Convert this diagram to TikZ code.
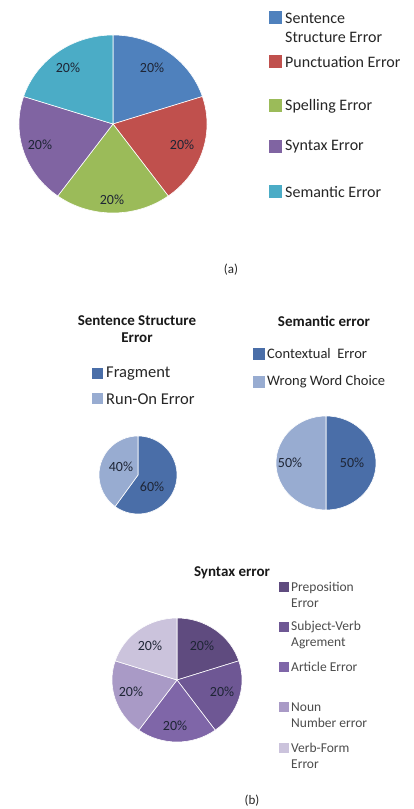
\documentclass[tikz,border=0pt]{standalone}
\usepackage{fontspec}
\setmainfont{Carlito}
\definecolor{cBlue}{HTML}{4F81BD}
\definecolor{cRed}{HTML}{C0504D}
\definecolor{cGreen}{HTML}{9BBB59}
\definecolor{cPurple}{HTML}{8064A2}
\definecolor{cCyan}{HTML}{4BACC6}
\definecolor{cFrag}{HTML}{4A6EA8}
\definecolor{cRun}{HTML}{98ACD1}
\definecolor{sA}{HTML}{5F4B7F}
\definecolor{sB}{HTML}{6E5794}
\definecolor{sC}{HTML}{7F66A8}
\definecolor{sD}{HTML}{A99AC6}
\definecolor{sE}{HTML}{CBC3DC}
\definecolor{labtext}{HTML}{1E2535}
\newcommand\myslice[7]{%
  \fill[#7, draw=white, line width=0.6pt] (#1,#2) -- ++(#5:#3 and #4)
    arc[start angle=#5, end angle=#6, x radius=#3, y radius=#4] -- cycle;}
\begin{document}
\begin{tikzpicture}[x=1pt,y=1pt,
  pct/.style={font=\fontsize{14}{14}\selectfont, text=labtext, inner sep=0pt},
  leg/.style={anchor=west, align=left, inner sep=0pt, text=black!85},
  sq/.style={minimum size=#1, inner sep=0pt, draw=none},
  ttl/.style={font=\bfseries\fontsize{15}{17}\selectfont, align=center, inner sep=0pt, text=black!90},
  captxt/.style={font=\fontsize{13}{13}\selectfont, inner sep=0pt, text=black!85}]
\path[use as bounding box, fill=white] (0,0) rectangle (414,809);

% ---------- (a) ----------
\myslice{113}{685}{94}{89}{18}{90}{cBlue}
\myslice{113}{685}{94}{89}{-54}{18}{cRed}
\myslice{113}{685}{94}{89}{-126}{-54}{cGreen}
\myslice{113}{685}{94}{89}{162}{234}{cPurple}
\myslice{113}{685}{94}{89}{90}{162}{cCyan}
\node[pct] (pa1) at (152,741) {20\%};
\node[pct] (pa2) at (182,664) {20\%};
\node[pct] (pa3) at (112,609) {20\%};
\node[pct] (pa4) at (40,664) {20\%};
\node[pct] (pa5) at (68,741) {20\%};

\node[sq=13pt, fill=cBlue] (qa1) at (275.5,791) {};
\node[sq=13pt, fill=cRed] (qa2) at (275.5,747) {};
\node[sq=13pt, fill=cGreen] (qa3) at (275.5,703) {};
\node[sq=13pt, fill=cPurple] (qa4) at (275.5,662) {};
\node[sq=13pt, fill=cCyan] (qa5) at (275.5,617) {};
\begin{scope}[every node/.append style={font=\fontsize{16}{19}\selectfont}]
\node[leg] (la1) at (285,781.5) {Sentence\\Structure Error};
\node[leg] (la2) at (285,747) {Punctuation Error};
\node[leg] (la3) at (285,703) {Spelling Error};
\node[leg] (la4) at (285,662) {Syntax Error};
\node[leg] (la5) at (285,617) {Semantic Error};
\end{scope}
\node[captxt] (capa) at (231,539) {(a)};

% ---------- (b) sentence structure ----------
\node[ttl] (t1) at (137,479.5) {Sentence Structure\\Error};
\node[sq=11pt, fill=cFrag] (qb1) at (97.5,435) {};
\node[sq=11pt, fill=cRun] (qb2) at (97.5,410) {};
\node[leg, font=\fontsize{16.5}{19}\selectfont] (lb1) at (106,435) {Fragment};
\node[leg, font=\fontsize{16.5}{19}\selectfont] (lb2) at (106,410) {Run-On Error};
\myslice{138}{334}{39}{39}{-126}{90}{cFrag}
\myslice{138}{334}{39}{39}{90}{234}{cRun}
\node[pct] (pb1) at (121,342) {40\%};
\node[pct] (pb2) at (152,322) {60\%};

% ---------- (b) semantic ----------
\node[ttl] (t2) at (324,488) {Semantic error};
\node[sq=12pt, fill=cFrag] (qc1) at (259,455) {};
\node[sq=12pt, fill=cRun] (qc2) at (259,427) {};
\node[leg, font=\fontsize{14.5}{17}\selectfont] (lc1) at (267,455) {Contextual\ \ Error};
\node[leg, font=\fontsize{14.5}{17}\selectfont] (lc2) at (267,427) {Wrong Word Choice};
\myslice{326}{346}{50}{47}{-90}{90}{cFrag}
\myslice{326}{346}{50}{47}{90}{270}{cRun}
\node[pct] (pc1) at (290,346) {50\%};
\node[pct] (pc2) at (352,346) {50\%};

% ---------- (b) syntax ----------
\node[ttl] (t3) at (232,236) {Syntax error};
\myslice{177}{129}{65}{62}{18}{90}{sA}
\myslice{177}{129}{65}{62}{-54}{18}{sB}
\myslice{177}{129}{65}{62}{-126}{-54}{sC}
\myslice{177}{129}{65}{62}{162}{234}{sD}
\myslice{177}{129}{65}{62}{90}{162}{sE}
\node[pct] (pd1) at (202,163) {20\%};
\node[pct] (pd2) at (222,117) {20\%};
\node[pct] (pd3) at (175,83) {20\%};
\node[pct] (pd4) at (131,117) {20\%};
\node[pct] (pd5) at (150,163) {20\%};

\node[sq=9.5pt, fill=sA] (qd1) at (284,222) {};
\node[sq=9.5pt, fill=sB] (qd2) at (284,182) {};
\node[sq=9.5pt, fill=sC] (qd3) at (284,142) {};
\node[sq=9.5pt, fill=sD] (qd4) at (284,102) {};
\node[sq=9.5pt, fill=sE] (qd5) at (284,61) {};
\begin{scope}[every node/.append style={font=\fontsize{13.5}{16}\selectfont}]
\node[leg, text=black!70] (ld1) at (291,214) {Preposition\\Error};
\node[leg, text=black!70] (ld2) at (291,174) {Subject-Verb\\Agrement};
\node[leg, text=black!70] (ld3) at (291,142) {Article Error};
\node[leg, text=black!70] (ld4) at (291,93.5) {Noun\\Number error};
\node[leg, text=black!70] (ld5) at (291,53.5) {Verb-Form\\Error};
\end{scope}
\node[captxt] (capb) at (252,8) {(b)};
\end{tikzpicture}
\end{document}
